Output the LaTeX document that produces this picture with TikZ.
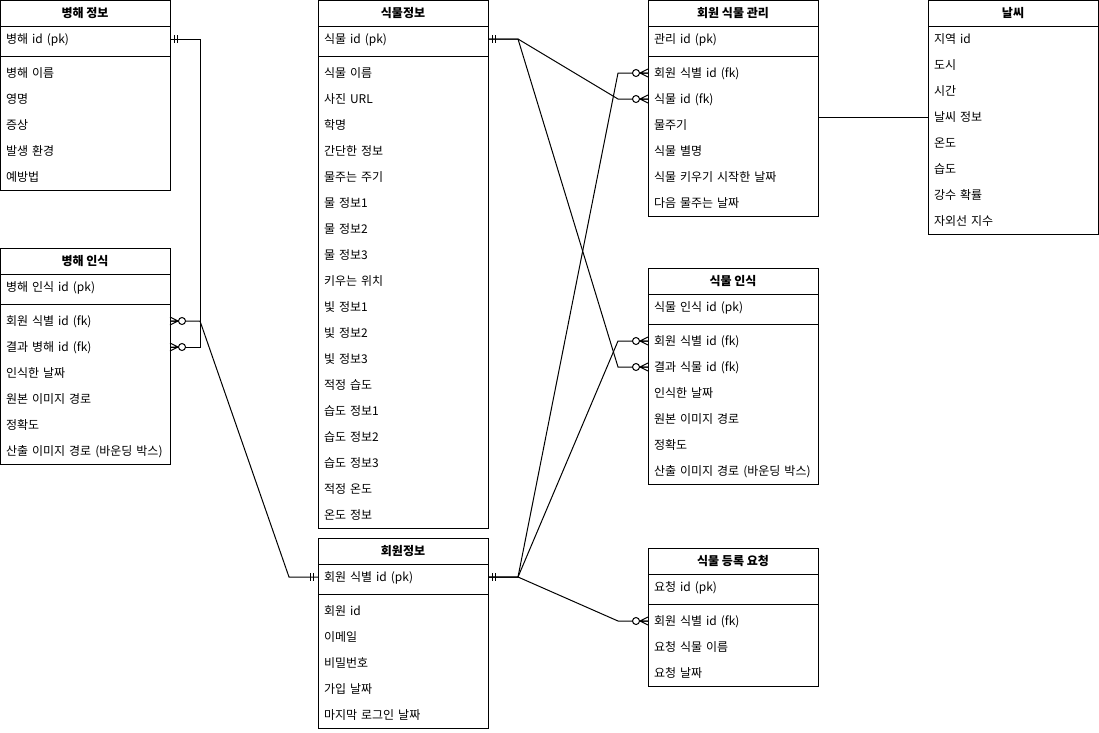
\documentclass[tikz,border=0pt]{standalone}
\usepackage{fontspec}
\setmainfont{Noto Sans CJK KR}
\usetikzlibrary{positioning}

\begin{document}
\begin{tikzpicture}[x=1pt, y=-1pt, line width=1pt,
                    every node/.style={font=\fontsize{12}{14}\selectfont},
                    tablenode/.style={draw, minimum width=170pt, outer sep=0pt, anchor=north west},
                    headnode/.style={draw, minimum width=170pt, minimum height=26pt, text height=11pt, text depth=2pt, outer sep=0pt, anchor=north west, font=\fontsize{12}{14}\selectfont\bfseries},
                    fieldnode/.style={anchor=west, text width=158pt, inner xsep=6pt, inner ysep=0pt, minimum height=26pt, text height=11pt, text depth=2pt, outer sep=0pt, align=left},
                    onemark/.pic={\draw (4.5,-4) -- (4.5,4) (7.5,-4) -- (7.5,4);},
                    manymark/.pic={\draw (0,-4) -- (8,0) -- (0,4) (0,0) -- (8,0); \draw[fill=white] (12,0) circle (3.5pt);},
                ]
                    \useasboundingbox (0,0) rectangle (1099,732);

                    %Nodes
                    % 병해 정보
                    \node[tablenode, minimum height=190pt](bj) at (0,0) {};
                    \node[headnode](bj-h) at (0,0) {병해 정보};
                    \node[fieldnode](bj-pk) at (0,39) {병해 id (pk)};
                    \draw ([yshift=-56pt]bj.north west) -- ([yshift=-56pt]bj.north east);
                    \foreach \f [count=\i] in {병해 이름, 영명, 증상, 발생 환경, 예방법}
                        \node[fieldnode](bj-\i) at (0,{47+26*\i}) {\f};

                    % 병해 인식
                    \node[tablenode, minimum height=216pt](bi) at (0,248) {};
                    \node[headnode](bi-h) at (0,248) {병해 인식};
                    \node[fieldnode](bi-pk) at (0,287) {병해 인식 id (pk)};
                    \draw ([yshift=-56pt]bi.north west) -- ([yshift=-56pt]bi.north east);
                    \foreach \f [count=\i] in {회원 식별 id (fk), 결과 병해 id (fk), 인식한 날짜, 원본 이미지 경로, 정확도, 산출 이미지 경로 (바운딩 박스)}
                        \node[fieldnode](bi-\i) at (0,{295+26*\i}) {\f};

                    % 식물정보
                    \node[tablenode, minimum height=528pt](pi) at (318,0) {};
                    \node[headnode](pi-h) at (318,0) {식물정보};
                    \node[fieldnode](pi-pk) at (318,39) {식물 id (pk)};
                    \draw ([yshift=-56pt]pi.north west) -- ([yshift=-56pt]pi.north east);
                    \foreach \f [count=\i] in {식물 이름, 사진 URL, 학명, 간단한 정보, 물주는 주기, 물 정보1, 물 정보2, 물 정보3, 키우는 위치, 빛 정보1, 빛 정보2, 빛 정보3, 적정 습도, 습도 정보1, 습도 정보2, 습도 정보3, 적정 온도, 온도 정보}
                        \node[fieldnode](pi-\i) at (318,{47+26*\i}) {\f};

                    % 회원정보
                    \node[tablenode, minimum height=190pt](mi) at (318,538) {};
                    \node[headnode](mi-h) at (318,538) {회원정보};
                    \node[fieldnode](mi-pk) at (318,577) {회원 식별 id (pk)};
                    \draw ([yshift=-56pt]mi.north west) -- ([yshift=-56pt]mi.north east);
                    \foreach \f [count=\i] in {회원 id, 이메일, 비밀번호, 가입 날짜, 마지막 로그인 날짜}
                        \node[fieldnode](mi-\i) at (318,{585+26*\i}) {\f};

                    % 회원 식물 관리
                    \node[tablenode, minimum height=216pt](mc) at (648,0) {};
                    \node[headnode](mc-h) at (648,0) {회원 식물 관리};
                    \node[fieldnode](mc-pk) at (648,39) {관리 id (pk)};
                    \draw ([yshift=-56pt]mc.north west) -- ([yshift=-56pt]mc.north east);
                    \foreach \f [count=\i] in {회원 식별 id (fk), 식물 id (fk), 물주기, 식물 별명, 식물 키우기 시작한 날짜, 다음 물주는 날짜}
                        \node[fieldnode](mc-\i) at (648,{47+26*\i}) {\f};

                    % 식물 인식
                    \node[tablenode, minimum height=216pt](pr) at (648,268) {};
                    \node[headnode](pr-h) at (648,268) {식물 인식};
                    \node[fieldnode](pr-pk) at (648,307) {식물 인식 id (pk)};
                    \draw ([yshift=-56pt]pr.north west) -- ([yshift=-56pt]pr.north east);
                    \foreach \f [count=\i] in {회원 식별 id (fk), 결과 식물 id (fk), 인식한 날짜, 원본 이미지 경로, 정확도, 산출 이미지 경로 (바운딩 박스)}
                        \node[fieldnode](pr-\i) at (648,{315+26*\i}) {\f};

                    % 식물 등록 요청
                    \node[tablenode, minimum height=138pt](rq) at (648,548) {};
                    \node[headnode](rq-h) at (648,548) {식물 등록 요청};
                    \node[fieldnode](rq-pk) at (648,587) {요청 id (pk)};
                    \draw ([yshift=-56pt]rq.north west) -- ([yshift=-56pt]rq.north east);
                    \foreach \f [count=\i] in {회원 식별 id (fk), 요청 식물 이름, 요청 날짜}
                        \node[fieldnode](rq-\i) at (648,{595+26*\i}) {\f};

                    % 날씨
                    \node[tablenode, minimum height=234pt](w) at (928,0) {};
                    \node[headnode](w-h) at (928,0) {날씨};
                    \foreach \f [count=\i] in {지역 id, 도시, 시간, 날씨 정보, 온도, 습도, 강수 확률, 자외선 지수}
                        \node[fieldnode](w-\i) at (928,{13+26*\i}) {\f};

                    %Lines
                    \draw (bj-pk.east) -- ++(30,0) |- (bi-2.east);
                    \draw (bi-1.east) -- ++(30,0) -- ([xshift=-29pt]mi-pk.west) -- (mi-pk.west);
                    \draw (pi-pk.east) -- ++(30,0) -- ([xshift=-30pt]mc-2.west) -- (mc-2.west);
                    \draw (pi-pk.east) -- ++(30,0) -- ([xshift=-30pt]pr-2.west) -- (pr-2.west);
                    \draw (mi-pk.east) -- ++(30,0) -- ([xshift=-30pt]mc-1.west) -- (mc-1.west);
                    \draw (mi-pk.east) -- ++(30,0) -- ([xshift=-30pt]pr-1.west) -- (pr-1.west);
                    \draw (mi-pk.east) -- ++(30,0) -- ([xshift=-30pt]rq-1.west) -- (rq-1.west);
                    \draw (w-4.west) -- (w-4.west -| mc.east);

                    %Marks
                    \pic at (bj-pk.east) {onemark};
                    \pic at (pi-pk.east) {onemark};
                    \pic at (mi-pk.east) {onemark};
                    \pic[xscale=-1] at (mi-pk.west) {onemark};
                    \pic at (bi-1.east) {manymark};
                    \pic at (bi-2.east) {manymark};
                    \pic[xscale=-1] at (mc-1.west) {manymark};
                    \pic[xscale=-1] at (mc-2.west) {manymark};
                    \pic[xscale=-1] at (pr-1.west) {manymark};
                    \pic[xscale=-1] at (pr-2.west) {manymark};
                    \pic[xscale=-1] at (rq-1.west) {manymark};
                \end{tikzpicture}
\end{document}
